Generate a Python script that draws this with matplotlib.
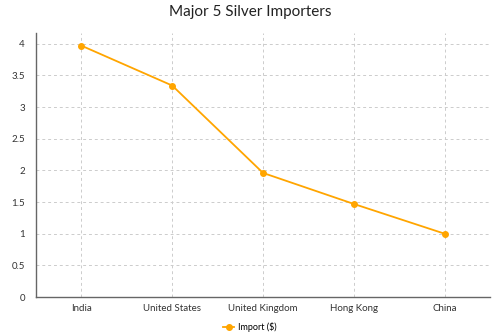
import matplotlib.pyplot as plt

countries = ["India", "United States", "United Kingdom", "Hong Kong", "China"]
imports = [3.97, 3.34, 1.96, 1.47, 1.0]
y_ticks = [0, 0.5, 1, 1.5, 2, 2.5, 3, 3.5, 4]
y_labels = ["0", "0.5", "1", "1.5", "2", "2.5", "3", "3.5", "4"]

plt.rcParams['font.family'] = ['Lato', 'DejaVu Sans']

fig = plt.figure(figsize=(5, 3.32), dpi=100)
ax = fig.add_axes([0.072, 0.1054, 0.908, 0.7952])

x = list(range(len(countries)))
ax.plot(x, imports, color="#FFA500", marker="o", markersize=4, linewidth=1.3, label="Import ($)")

ax.set_xlim(-0.5, len(countries) - 0.5)
ax.set_ylim(0, 4.17)
ax.set_xticks(x)
ax.set_xticklabels(countries)
ax.set_yticks(y_ticks)
ax.set_yticklabels(y_labels)
ax.tick_params(axis='both', length=0, labelsize=7, colors="#333333")
ax.tick_params(axis='x', pad=5)
ax.tick_params(axis='y', pad=8)

ax.grid(True, linestyle=(0, (3, 3)), color="#cccccc", linewidth=0.7)
for s in ["top", "right"]:
    ax.spines[s].set_visible(False)
for s in ["left", "bottom"]:
    ax.spines[s].set_color("#666666")
    ax.spines[s].set_linewidth(1)

fig.suptitle("Major 5 Silver Importers", fontsize=11, y=0.985, color="#222222")
fig.legend(loc="lower center", bbox_to_anchor=(0.5, -0.025), frameon=False, fontsize=6.5,
           handlelength=1.2, handletextpad=0.4)

fig.savefig("out.png", dpi=100)
